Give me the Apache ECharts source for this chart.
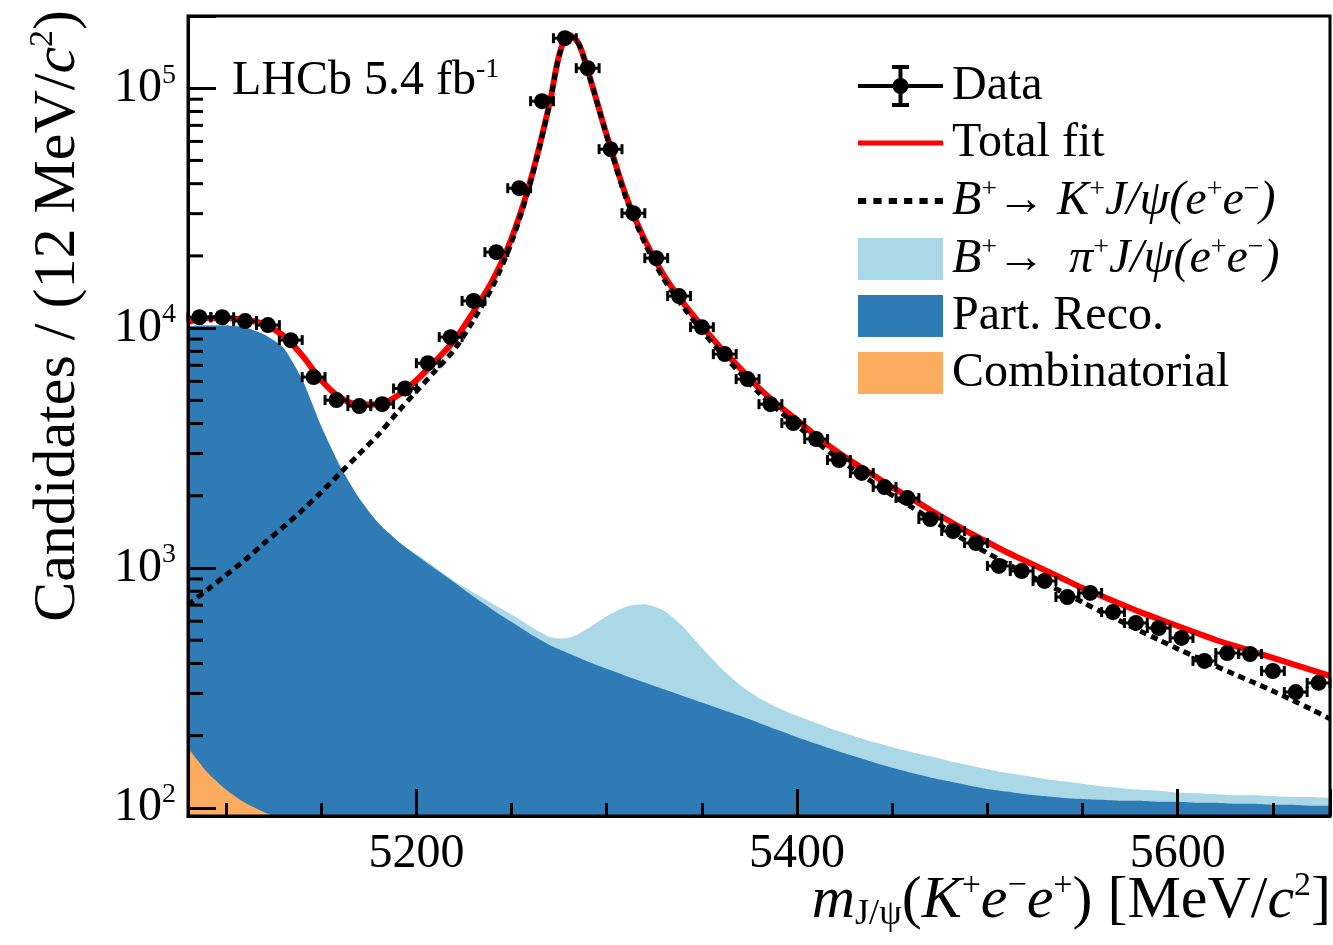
<!DOCTYPE html>
<html>
<head>
<meta charset="utf-8">
<script src="https://cdn.jsdelivr.net/npm/echarts@6/dist/echarts.min.js"></script>
<style>
  html, body { margin: 0; padding: 0; background: #fff; }
  #main { width: 1333px; height: 945px; }
</style>
</head>
<body>
<div id="main"></div>
<script>
// bin centres (12 MeV bins) and candidate counts
var dataMass = [5086, 5098, 5110, 5122, 5134, 5146, 5158, 5170, 5182, 5194,
  5206, 5218, 5230, 5242, 5254, 5266, 5278, 5290, 5302, 5314,
  5326, 5338, 5350, 5362, 5374, 5386, 5398, 5410, 5422, 5434,
  5446, 5458, 5470, 5482, 5494, 5506, 5518, 5530, 5542, 5554,
  5566, 5578, 5590, 5602, 5614, 5626, 5638, 5650, 5662, 5674];
var dataCounts = [11100, 11100, 10700, 10290, 8910, 6250, 5010, 4730, 4820, 5600,
  7140, 9170, 12980, 20730, 38300, 88300, 161600, 121200, 55700, 30130,
  19570, 13600, 10090, 7790, 6130, 4820, 4020, 3450, 2820, 2490,
  2175, 1957, 1600, 1426, 1271, 1020, 971, 883, 757, 787,
  655, 590, 562, 511, 410, 442, 438, 372, 304, 332];
var binHalf = 6;

var curveMass = [5080, 5090, 5100, 5110, 5120, 5130, 5140, 5150, 5160, 5170,
  5180, 5190, 5200, 5210, 5220, 5230, 5240, 5250, 5260, 5270,
  5275, 5280, 5285, 5290, 5300, 5310, 5320, 5330, 5340, 5350,
  5360, 5370, 5380, 5390, 5400, 5410, 5420, 5430, 5440, 5450,
  5460, 5470, 5480, 5490, 5500, 5510, 5520, 5530, 5540, 5550,
  5560, 5570, 5580, 5590, 5600, 5610, 5620, 5630, 5640, 5650,
  5660, 5670, 5680];
var totalFit = [10590, 11010, 11010, 10800, 10400, 9300, 7700, 6060, 5130, 4800,
  4800, 5220, 6060, 7290, 8910, 11700, 15800, 23700, 41400, 86600,
  137000, 167000, 155000, 119000, 63700, 35800, 23300, 16600, 12800, 10200,
  8250, 6810, 5620, 4780, 4140, 3550, 3100, 2740, 2440, 2170,
  1950, 1745, 1570, 1410, 1283, 1166, 1070, 981, 900, 825,
  764, 708, 656, 613, 573, 536, 501, 473, 447, 422,
  398, 376, 355];
var signalK = [702, 810, 935, 1080, 1270, 1480, 1740, 2070, 2490, 2990,
  3600, 4450, 5450, 6650, 8150, 10800, 14900, 22800, 40600, 85900,
  136400, 166500, 154500, 118400, 63100, 35100, 22600, 16000, 12300, 9750,
  7900, 6520, 5370, 4560, 3930, 3360, 2920, 2570, 2270, 2010,
  1800, 1600, 1430, 1280, 1155, 1045, 950, 865, 790, 720,
  655, 600, 548, 502, 460, 424, 390, 360, 333, 307,
  282, 258, 235];
// stacked tops: pi mis-ID on top of part. reco. (which includes combinatorial)
var piStackTop = [10190, 10250, 10250, 10050, 9400, 8300, 6100, 3900, 2650, 1950,
  1540, 1300, 1140, 1005, 880, 790, 710, 640, 570, 515,
  508, 512, 530, 560, 630, 690, 706, 665, 570, 464,
  383, 325, 287, 261, 242, 226, 211, 199, 188, 179,
  171, 164, 157, 151, 145, 140, 136, 132, 129, 126,
  123, 121, 119, 118, 116, 115, 114, 113, 113, 112,
  111, 111, 110];
var partRecoStackTop = [10190, 10250, 10250, 10050, 9400, 8300, 6100, 3900, 2650, 1950,
  1540, 1300, 1130, 990, 870, 760, 670, 595, 530, 478,
  458, 440, 424, 408, 380, 355, 333, 312, 293, 275,
  258, 242, 226, 211, 197, 185, 174, 164, 155, 147,
  140, 134, 129, 124, 120, 117, 114, 112, 110, 109,
  108, 107, 107, 106, 106, 105, 105, 104, 104, 103,
  103, 102, 102];
var combMass = [5080, 5090, 5100, 5110, 5120, 5130, 5140];
var combinatorial = [178, 141, 119, 105, 96, 90, 85];

var yMinorTicks = [200, 300, 400, 500, 600, 700, 800, 900,
  2000, 3000, 4000, 5000, 6000, 7000, 8000, 9000,
  20000, 30000, 40000, 50000, 60000, 70000, 80000, 90000];

var xMin = 5080, xMax = 5680, yMin = 92.5, yMax = 2.0e5;

var FONT = '"Liberation Serif", "Times New Roman", serif';
var rich = {
  n: { fontFamily: FONT, fontSize: 48, fontWeight: 'normal', color: '#000', lineHeight: 50 },
  i: { fontFamily: FONT, fontSize: 48, fontWeight: 'normal', color: '#000', fontStyle: 'italic', lineHeight: 50 },
  s: { fontFamily: FONT, fontSize: 28, fontWeight: 'normal', color: '#000', verticalAlign: 'top', lineHeight: 26 }
};
var richBig = {
  n: { fontFamily: FONT, fontSize: 60, fontWeight: 'normal', color: '#000', lineHeight: 64 },
  i: { fontFamily: FONT, fontSize: 60, fontWeight: 'normal', color: '#000', fontStyle: 'italic', lineHeight: 64 },
  s: { fontFamily: FONT, fontSize: 34, fontWeight: 'normal', color: '#000', verticalAlign: 'top', lineHeight: 34 },
  sub: { fontFamily: FONT, fontSize: 36, fontWeight: 'normal', color: '#000', verticalAlign: 'bottom', lineHeight: 22 }
};

var legendText = {
  'Data': '{n|Data}',
  'Total fit': '{n|Total fit}',
  'sigK': '{i|B}{s|+}{n|→ }{i|K}{s|+}{i|J/ψ(e}{s|+}{i|e}{s|−}{i|)}',
  'sigPi': '{i|B}{s|+}{n|→  }{i|π}{s|+}{i|J/ψ(e}{s|+}{i|e}{s|−}{i|)}',
  'partReco': '{n|Part. Reco.}',
  'comb': '{n|Combinatorial}'
};

function pairs(xs, ys) {
  return xs.map(function (x, k) { return [x, ys[k]]; });
}

function renderPoint(params, api) {
  var m = api.value(0), n = api.value(1);
  var c = api.coord([m, n]);
  var l = api.coord([m - binHalf, n]);
  var r = api.coord([m + binHalf, n]);
  var err = Math.sqrt(n);
  var up = api.coord([m, n + err]);
  var dn = api.coord([m, n - err]);
  var st = { stroke: '#000', lineWidth: 3 };
  return {
    type: 'group',
    children: [
      { type: 'line', shape: { x1: l[0], y1: c[1], x2: r[0], y2: c[1] }, style: st },
      { type: 'line', shape: { x1: l[0], y1: c[1] - 5, x2: l[0], y2: c[1] + 5 }, style: st },
      { type: 'line', shape: { x1: r[0], y1: c[1] - 5, x2: r[0], y2: c[1] + 5 }, style: st },
      { type: 'line', shape: { x1: c[0], y1: up[1], x2: c[0], y2: dn[1] }, style: st },
      { type: 'circle', shape: { cx: c[0], cy: c[1], r: 8 }, style: { fill: '#000' } }
    ]
  };
}

function renderMinorTick(params, api) {
  var p = api.coord([api.value(0), api.value(1)]);
  return {
    type: 'line',
    shape: { x1: p[0], y1: p[1], x2: p[0] + 15, y2: p[1] },
    style: { stroke: '#000', lineWidth: 3 }
  };
}

var dataIcon = 'path://M0 19 L85 19 L85 23 L0 23 Z M40.5 0 L44.5 0 L44.5 42 L40.5 42 Z ' +
  'M34 0 L51 0 L51 4 L34 4 Z M34 38 L51 38 L51 42 L34 42 Z ' +
  'M50.5 21 A8 8 0 1 1 34.5 21 A8 8 0 1 1 50.5 21 Z';
var fitIcon = 'path://M0 0 L85 0 L85 5 L0 5 Z';
var dotIcon = 'path://M0 0 h8 v6 h-8 Z M15 0 h8 v6 h-8 Z M30 0 h8 v6 h-8 Z ' +
  'M45 0 h8 v6 h-8 Z M60 0 h8 v6 h-8 Z M75 0 h8 v6 h-8 Z';

var chartDom = document.getElementById('main');
var myChart = echarts.init(chartDom);

var option = {
  animation: false,
  backgroundColor: '#fff',
  title: [
    {
      text: '{n|LHCb 5.4 fb}{s|-1}',
      left: 232, top: 56, padding: 0,
      textStyle: { fontWeight: 'normal', rich: rich }
    },
    {
      text: '{i|m}{sub|J/ψ}{n|(}{i|K}{s|+}{i|e}{s|−}{i|e}{s|+}{n|) [MeV/}{i|c}{s|2}{n|]}',
      right: 2, top: 869, padding: 0,
      textStyle: { fontWeight: 'normal', rich: richBig }
    }
  ],
  legend: {
    orient: 'vertical', left: 853, top: 57,
    itemWidth: 85, itemHeight: 42, itemGap: 9,
    selectedMode: false,
    textStyle: { rich: rich, padding: [0, 0, 0, 4] },
    formatter: function (name) { return legendText[name]; },
    data: [
      { name: 'Data', icon: dataIcon },
      { name: 'Total fit', icon: fitIcon },
      { name: 'sigK', icon: dotIcon },
      { name: 'sigPi', icon: 'rect' },
      { name: 'partReco', icon: 'rect' },
      { name: 'comb', icon: 'rect' }
    ]
  },
  grid: {
    left: 188, right: 3, top: 16, bottom: 129,
    show: true, borderColor: '#000', borderWidth: 3, z: 10,
    outerBoundsMode: 'none'
  },
  xAxis: {
    type: 'value', min: xMin, max: xMax, splitNumber: 3, z: 10,
    axisLine: { lineStyle: { color: '#000', width: 3 } },
    axisTick: { inside: true, length: 27, lineStyle: { color: '#000', width: 3 } },
    minorTick: { show: true, splitNumber: 4, length: 13, lineStyle: { color: '#000', width: 3 } },
    splitLine: { show: false },
    axisLabel: {
      margin: 14, fontFamily: FONT, fontSize: 48, color: '#000',
      formatter: function (v) { return v % 200 === 0 ? String(v) : ''; }
    }
  },
  yAxis: {
    type: 'log', logBase: 10, min: yMin, max: yMax, z: 10,
    axisLine: { lineStyle: { color: '#000', width: 3 } },
    axisTick: { inside: true, length: 28, lineStyle: { color: '#000', width: 3 } },
    splitLine: { show: false },
    axisLabel: {
      margin: 12,
      formatter: function (v) {
        var e = Math.log10(v);
        if (Math.abs(e - Math.round(e)) > 1e-6) return '';
        return '{b|10}{e|' + Math.round(e) + '}';
      },
      rich: {
        b: { fontFamily: FONT, fontSize: 48, color: '#000', lineHeight: 54 },
        e: { fontFamily: FONT, fontSize: 28, color: '#000', verticalAlign: 'top', lineHeight: 28 }
      }
    },
    name: '{n|Candidates / (12 MeV/}{i|c}{s|2}{n|)}',
    nameLocation: 'end', nameRotate: 90, nameGap: 6,
    nameTextStyle: { align: 'right', verticalAlign: 'bottom', padding: [0, 0, 98, 0], rich: richBig }
  },
  series: [
    {
      name: 'sigPi', type: 'line', z: 1, symbol: 'none', smooth: 0.2, silent: true,
      color: '#abd8e7',
      lineStyle: { width: 0 },
      areaStyle: { color: '#abd8e7', opacity: 1, origin: 'start' },
      data: pairs(curveMass, piStackTop)
    },
    {
      name: 'partReco', type: 'line', z: 2, symbol: 'none', smooth: 0.2, silent: true,
      color: '#2f7bb5',
      lineStyle: { width: 0 },
      areaStyle: { color: '#2f7bb5', opacity: 1, origin: 'start' },
      data: pairs(curveMass, partRecoStackTop)
    },
    {
      name: 'comb', type: 'line', z: 3, symbol: 'none', smooth: 0.2, silent: true,
      color: '#fcac5f',
      lineStyle: { width: 0 },
      areaStyle: { color: '#fcac5f', opacity: 1, origin: 'start' },
      data: pairs(combMass, combinatorial)
    },
    {
      name: 'Total fit', type: 'line', z: 4, symbol: 'none', smooth: 0.3, silent: true,
      color: '#ff0000',
      lineStyle: { color: '#ff0000', width: 6 },
      data: pairs(curveMass, totalFit)
    },
    {
      name: 'sigK', type: 'line', z: 5, symbol: 'none', smooth: 0.3, silent: true,
      color: '#000',
      lineStyle: { color: '#000', width: 5, type: [7, 5], cap: 'butt' },
      data: pairs(curveMass, signalK)
    },
    {
      name: 'Data', type: 'custom', z: 6, silent: true,
      itemStyle: { color: '#000' },
      renderItem: renderPoint,
      data: pairs(dataMass, dataCounts)
    },
    {
      name: 'yMinor', type: 'custom', z: 11, silent: true,
      renderItem: renderMinorTick,
      data: yMinorTicks.map(function (v) { return [xMin, v]; })
    }
  ]
};

option && myChart.setOption(option);
</script>
</body>
</html>
